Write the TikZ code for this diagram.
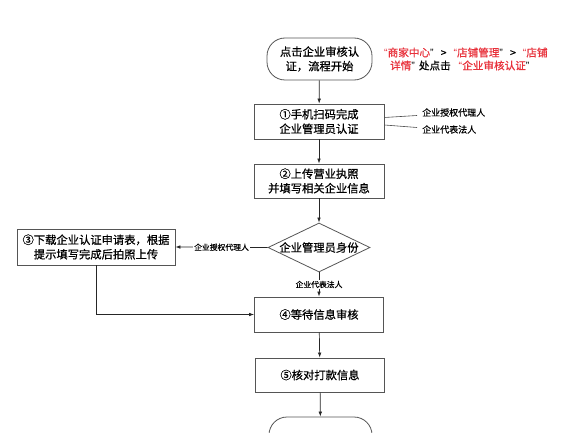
\documentclass[tikz,border=0pt]{standalone}
\usepackage{fontspec}
\setmainfont{Noto Sans CJK SC}[FakeBold=0.6]
\newfontfamily\qf{Liberation Sans}
\usetikzlibrary{arrows.meta,shapes.geometric}
\definecolor{redtxt}{HTML}{E8303A}
\definecolor{boxline}{HTML}{555555}
\newcommand{\myLq}{{\qf “}}
\newcommand{\myRq}{{\qf ”}}
\begin{document}
\begin{tikzpicture}[x=1pt,y=-1pt,
  boxstyle/.style={draw=boxline,line width=0.8pt,fill=white,inner sep=1pt,align=center,font=\fontsize{11.3}{14.5}\selectfont},
  termstyle/.style={boxstyle,rounded corners=18pt},
  conn/.style={line width=0.7pt,draw=black!85,-{Latex[length=5pt,width=3.6pt]}},
  plain/.style={line width=0.6pt,draw=black!70},
  smalllbl/.style={font=\fontsize{9}{11}\selectfont,inner sep=1pt},
  tinylbl/.style={font=\fontsize{7.8}{9}\selectfont,fill=white,inner sep=1pt}]
\clip (0,0) rectangle (578,433);
\fill[white] (0,0) rectangle (578,433);
% nodes
\node[termstyle,minimum width=105pt,minimum height=42pt] (start) at (319.5,59) {点击企业审核认\\证，流程开始};
\node[anchor=west,align=left,inner sep=0pt,font=\fontsize{10.6}{13}\selectfont] (note) at (384,59)
  {\textcolor{redtxt}{\myLq 商家中心}\myRq\hspace{7pt}>\hspace{7pt}\textcolor{redtxt}{\myLq 店铺管理}\myRq\hspace{7pt}>\hspace{7pt}\textcolor{redtxt}{\myLq 店铺}\\
   \hspace{6pt}\textcolor{redtxt}{详情}\myRq\hspace{4pt}处点击\hspace{8pt}\textcolor{redtxt}{\myLq 企业审核认证}\myRq};
\node[boxstyle,minimum width=130pt,minimum height=35pt] (b1) at (319,121.5) {①手机扫码完成\\企业管理员认证};
\node[smalllbl,anchor=west] (l1) at (421,112.5) {企业授权代理人};
\node[smalllbl,anchor=west] (l2) at (421,129.5) {企业代表法人};
\node[boxstyle,minimum width=130pt,minimum height=34pt] (b2) at (319,181) {②上传营业执照\\并填写相关企业信息};
\node[draw=boxline,line width=0.8pt,fill=white,diamond,minimum width=102pt,minimum height=49pt,inner sep=0pt] (d) at (319,247.5) {};
\node[font=\fontsize{11.3}{14}\selectfont,inner sep=0pt] (dt) at (d.center) {企业管理员身份};
\node[boxstyle,minimum width=158pt,minimum height=36pt] (b3) at (96,247) {③下载企业认证申请表，根据\\提示填写完成后拍照上传};
\node[boxstyle,minimum width=129pt,minimum height=35pt] (b4) at (319,314.5) {④等待信息审核};
\node[boxstyle,minimum width=129pt,minimum height=34pt] (b5) at (320,375) {⑤核对打款信息};
\node[termstyle,minimum width=103pt,minimum height=42pt] (end) at (320.5,438) {};
\coordinate (c1) at (417,115.5);
\coordinate (c2) at (417,127.5);
\coordinate (elbow) at (b3.south |- b4.west);
% connectors
\draw[conn] (start) -- (b1);
\draw[plain] (b1.east |- 0,117.5) -- (c1);
\draw[plain] (b1.east |- 0,125) -- (c2);
\draw[conn] (b1) -- (b2);
\draw[conn] (b2) -- (d.north);
\draw[conn] (d.west) -- node[tinylbl] {企业授权代理人} (b3.east);
\draw[conn] (d.south) -- node[tinylbl,pos=0.5] {企业代表法人} (b4.north);
\draw[conn] (b3.south) -- (elbow) -- (b4.west);
\draw[conn] (b4) -- (b5);
\draw[conn] (b5) -- (end);
\end{tikzpicture}
\end{document}
